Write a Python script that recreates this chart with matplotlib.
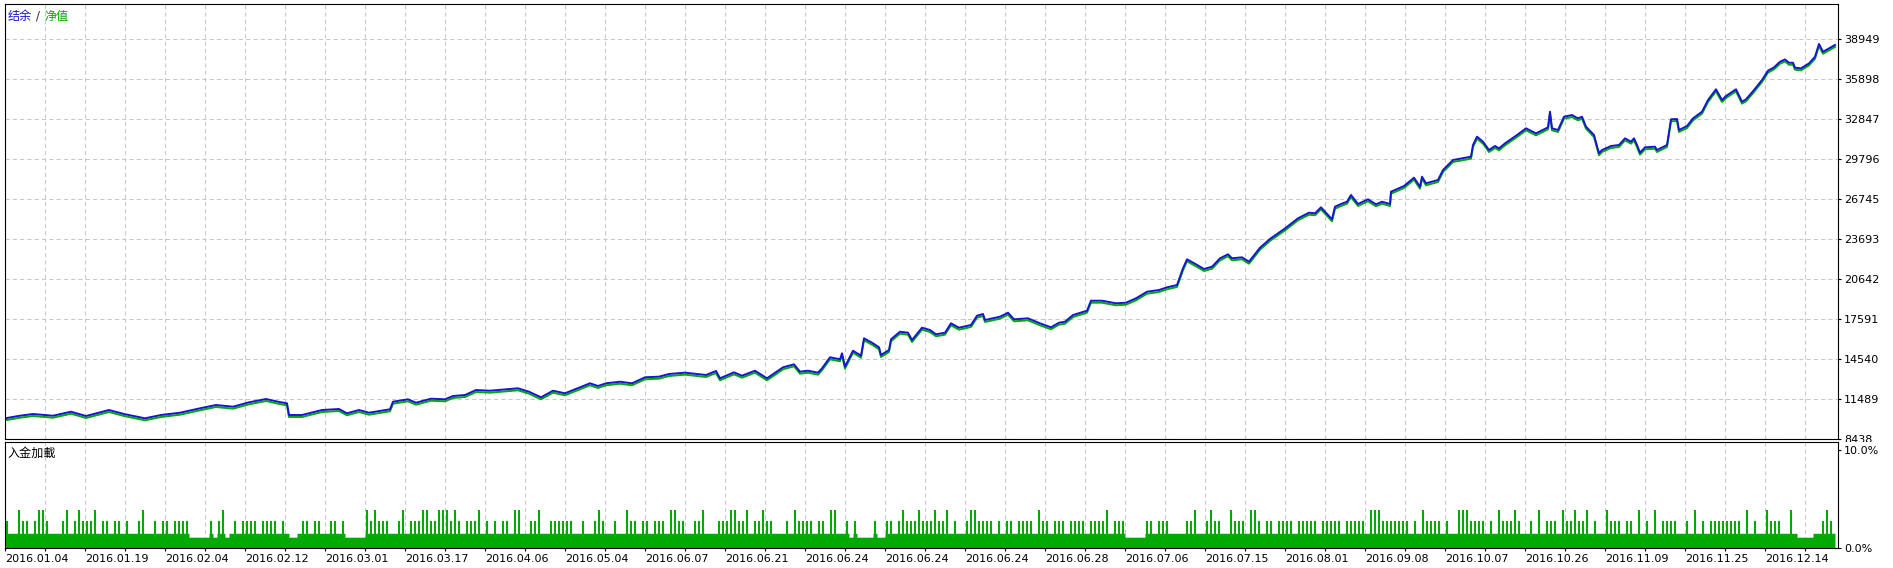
import matplotlib.pyplot as plt
import matplotlib.transforms as mtransforms
import numpy as np

plt.rcParams['font.family'] = ['DejaVu Sans', 'Noto Sans CJK SC']

# curva de balance (posicion de operacion, balance)
trade_pos = [0, 15, 28, 48, 66, 81, 104, 119, 140, 156, 175, 195, 211, 228, 244, 261, 273, 282, 284,
             297, 317, 334, 342, 354, 364, 385, 388, 403, 411, 426, 440, 448, 460, 471, 485, 513, 524,
             536, 548, 560, 575, 585, 593, 601, 615, 627, 640, 654, 664, 680, 701, 711, 715, 729, 737,
             750, 762, 778, 789, 795, 803, 813, 817, 825, 835, 837, 840, 848, 856, 859, 868, 874, 876,
             884, 886, 895, 903, 907, 917, 925, 931, 940, 946, 954, 966, 972, 978, 980, 995, 1003, 1009,
             1023, 1035, 1046, 1054, 1060, 1068, 1082, 1086, 1097, 1111, 1121, 1131, 1142, 1154, 1162,
             1172, 1178, 1182, 1191, 1199, 1207, 1215, 1223, 1227, 1237, 1244, 1255, 1265, 1280, 1293,
             1304, 1310, 1316, 1320, 1327, 1330, 1336, 1342, 1346, 1353, 1363, 1371, 1377, 1385, 1386,
             1399, 1409, 1415, 1417, 1421, 1433, 1438, 1448, 1466, 1468, 1472, 1478, 1484, 1490, 1494,
             1500, 1512, 1521, 1531, 1543, 1545, 1547, 1553, 1559, 1567, 1573, 1577, 1581, 1589, 1594,
             1597, 1606, 1614, 1620, 1626, 1629, 1632, 1635, 1640, 1650, 1652, 1662, 1666, 1672, 1674,
             1682, 1688, 1697, 1703, 1711, 1717, 1721, 1731, 1737, 1741, 1749, 1757, 1763, 1769, 1775,
             1780, 1784, 1788, 1790, 1796, 1804, 1810, 1814, 1818, 1826, 1830]
balance = [10017, 10215, 10345, 10215, 10520, 10192, 10650, 10345, 10017, 10269, 10444, 10780, 11031,
           10902, 11237, 11489, 11283, 11161, 10269, 10269, 10650, 10726, 10399, 10650, 10444, 10704,
           11283, 11466, 11207, 11512, 11466, 11718, 11794, 12175, 12122, 12305, 12046, 11619, 12122,
           11924, 12381, 12687, 12481, 12687, 12808, 12687, 13145, 13193, 13396, 13498, 13320, 13625,
           13068, 13524, 13267, 13648, 13068, 13907, 14136, 13572, 13648, 13498, 13831, 14670, 14518,
           14975, 13953, 15173, 14792, 16119, 15738, 15433, 14845, 15227, 16043, 16623, 16547, 15989,
           16928, 16752, 16426, 16547, 17263, 16928, 17134, 17843, 17972, 17514, 17768, 18073, 17568,
           17643, 17263, 16958, 17309, 17385, 17896, 18224, 18987, 18987, 18789, 18835, 19170, 19673,
           19803, 20009, 20184, 21458, 22144, 21763, 21405, 21580, 22221, 22526, 22221, 22297, 21962,
           23030, 23700, 24500, 25272, 25700, 25654, 26112, 25776, 25196, 26157, 26363, 26538, 27049,
           26363, 26721, 26340, 26538, 26363, 27301, 27736, 28369, 27682, 28445, 27941, 28193, 28956,
           29719, 29973, 30863, 31497, 31116, 30481, 30786, 30608, 30989, 31626, 32134, 31753, 32211,
           33403, 32134, 32007, 33021, 33150, 32897, 33021, 32261, 31626, 30228, 30481, 30786, 30863,
           31372, 31116, 31372, 30863, 30278, 30685, 30735, 30481, 30863, 32822, 32847, 32007, 32312,
           32897, 33403, 34295, 35111, 34295, 34600, 35111, 34168, 34346, 35058, 35821, 36531, 36785,
           37214, 37392, 37138, 37138, 36760, 36710, 37087, 37595, 38568, 37977, 38314, 38492]

y_ticks = [8438, 11489, 14540, 17591, 20642, 23693, 26745, 29796, 32847, 35898, 38949]
dates = ['2016.01.04', '2016.01.19', '2016.02.04', '2016.02.12', '2016.03.01', '2016.03.17',
         '2016.04.06', '2016.05.04', '2016.06.07', '2016.06.21', '2016.06.24', '2016.06.24',
         '2016.06.24', '2016.06.28', '2016.07.06', '2016.07.15', '2016.08.01', '2016.09.08',
         '2016.10.07', '2016.10.26', '2016.11.09', '2016.11.25', '2016.12.14']

# carga de deposito, un codigo por cada 4 operaciones: 0 baja, 1 normal, 2 media, 3 alta
load_codes = ("2113221233" "2111231232" "2231221221" "2112311212" "2122220000"
              "0202301212" "2221222212" "1001221221" "1221200000" "3232221123"
              "1222332233" "3232122231" "2121221331" "1223112222" "2211211232"
              "1121132212" "2122213322" "1122311122" "2332231223" "2211121322"
              "2212213311" "2020000200" "2212322232" "2232231211" "2332222121"
              "2212222132" "2122212222" "1222231222" "0000022122" "2111122311"
              "2322113222" "1332122122" "2212222212" "2222122222" "1333222222"
              "2121322221" "2113332222" "1213222321" "1213122213" "2232231211"
              "3222122131" "2131222211" "2131212222" "2222131211" "3222113100"
              "00112321")
load_levels = {'0': 1.1, '1': 1.5, '2': 2.75, '3': 3.9}

W, H = 1893, 568
BLUE = '#1616d2'
GREEN = '#00aa00'
GRID = '#c8c8c8'

fig = plt.figure(figsize=(W / 100, H / 100), dpi=100)
ax = fig.add_axes([5 / W, 1 - 439 / H, 1833 / W, 435 / H])
ax2 = fig.add_axes([5 / W, 1 - 548 / H, 1833 / W, 106 / H])

# grafico principal: equidad (verde, un poco abajo) y balance (azul)
shift = mtransforms.offset_copy(ax.transData, fig=fig, x=0, y=-2.0, units='dots')
ax.plot(trade_pos, balance, color=GREEN, linewidth=1.4, transform=shift)
ax.plot(trade_pos, balance, color=BLUE, linewidth=1.4)

ax.set_xlim(0, 1833)
ax.set_ylim(8438, 41618)
ax.set_yticks(y_ticks)
ax.yaxis.tick_right()
ax.tick_params(axis='y', labelsize=8, length=2.5, width=0.8, pad=2)
ax.set_xticks(np.arange(0, 1834, 80))
ax.set_xticks(np.arange(40, 1834, 80), minor=True)
ax.tick_params(axis='x', which='both', bottom=False, labelbottom=False)
ax.grid(True, which='both', color=GRID, linestyle=(0, (4, 3)), linewidth=0.75)

# el 8438 queda tapado por el panel de abajo
clip = mtransforms.TransformedBbox(mtransforms.Bbox([[0, 1 - 441.5 / H], [1, 1]]), fig.transFigure)
for lbl in ax.get_yticklabels():
    lbl.set_clip_box(clip)
    lbl.set_clip_on(True)

t1 = fig.text(8 / W, 1 - 16 / H, '结余', color=BLUE, fontsize=8.7, va='center')
t2 = ax.annotate(' / ', xy=(1, 0.5), xycoords=t1, va='center', fontsize=8.7, color='#333333')
ax.annotate('净值', xy=(1, 0.5), xycoords=t2, va='center', fontsize=8.7, color=GREEN)

# panel de carga de deposito
codes = np.array([load_levels[c] for c in load_codes])
xb = 4 * np.arange(len(codes)) + 2
base = np.minimum(codes, load_levels['1'])
spikes = np.where(codes > load_levels['1'], codes, 0)
ax2.fill_between(xb, base, step='mid', color=GREEN, linewidth=0)
ax2.bar(xb, spikes, width=2.7, color=GREEN, linewidth=0)

ax2.set_xlim(0, 1833)
ax2.set_ylim(0, 10.8)
ax2.set_yticks([0, 10], labels=['0.0%', '10.0%'])
ax2.yaxis.tick_right()
ax2.tick_params(axis='y', labelsize=8, length=2.5, width=0.8, pad=2)
ax2.set_xticks(np.arange(0, 1834, 80), labels=dates, ha='left')
ax2.set_xticks(np.arange(40, 1834, 80), minor=True)
ax2.tick_params(axis='x', which='both', labelsize=8, length=2.5, width=0.8, pad=1.5)
ax2.grid(True, axis='x', which='both', color=GRID, linestyle=(0, (4, 3)), linewidth=0.75)
fig.text(8 / W, 1 - 453 / H, '入金加載', fontsize=8.7, va='center')

for a in (ax, ax2):
    a.set_axisbelow(True)
    for s in a.spines.values():
        s.set_color('black')
        s.set_linewidth(0.8)

fig.savefig('out.png', dpi=100)
